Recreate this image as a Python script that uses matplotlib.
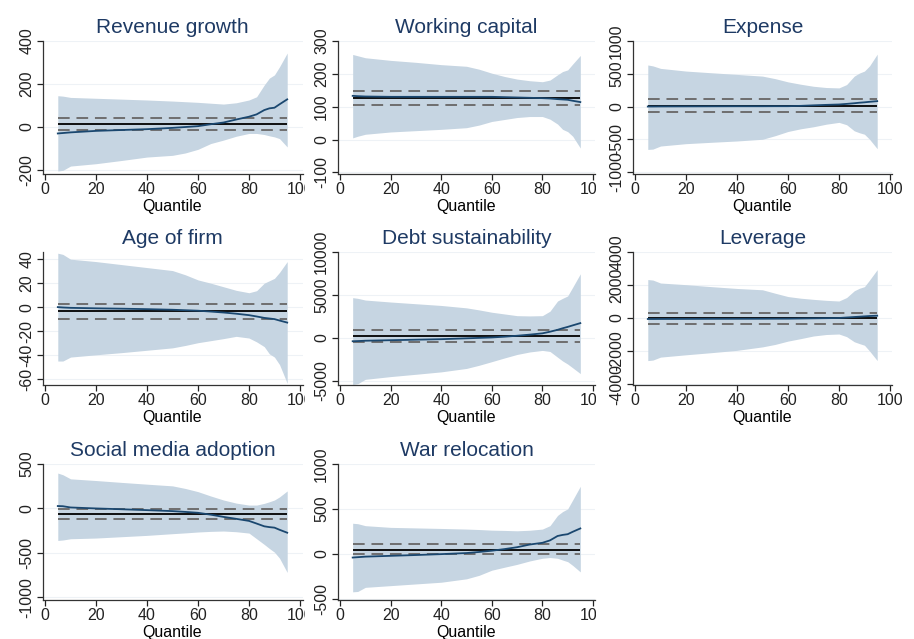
#!/usr/bin/env python3
"""Quantile regression coefficient plots (8 panels) with OLS reference lines."""

import matplotlib
matplotlib.use("Agg")
import matplotlib.pyplot as plt
from matplotlib.transforms import Bbox, TransformedBbox

plt.rcParams["font.family"] = ["Liberation Sans", "DejaVu Sans"]

COLORS = {
    "band": "#c6d5e2",
    "coef": "#1a476f",
    "ols": "#000000",
    "ci": "#6e6e6e",
    "title": "#1e3a64",
    "grid": "#eef2f6",
    "axis": "#333333",
}

QUANTILES = [5, 7, 10, 20, 30, 40, 50, 55, 60, 65, 70, 75, 80, 83, 86, 88, 90, 92, 95]

TITLES = ["Revenue growth", "Working capital", "Expense", "Age of firm",
          "Debt sustainability", "Leverage", "Social media adoption", "War relocation"]

# upper / lower bounds of the quantile CI, quantile coefficient
rev_upper = [145, 143, 137, 133, 129, 125, 120, 117, 114, 110, 106, 112, 125, 140, 195, 227, 242, 280, 344]
rev_lower = [-206, -203, -183, -172, -157, -141, -133, -122, -105, -78, -62, -44, -31, -31, -36, -42, -47, -55, -94]
rev_coef = [-31, -29, -26, -19, -15, -11, -5, -1, 3, 12, 20, 34, 47, 58, 78, 86, 89, 105, 128]

wc_upper = [259, 255, 249, 241, 235, 228, 223, 214, 202, 192, 184, 179, 176, 181, 197, 207, 212, 230, 256]
wc_lower = [5, 10, 16, 23, 27, 31, 36, 44, 55, 61, 67, 70, 70, 62, 47, 31, 24, 10, -26]
wc_coef = [133, 132, 131, 130, 130, 130, 130, 130, 130, 129, 128, 127, 126, 125, 123, 122, 121, 118, 114]

exp_upper = [634, 620, 582, 541, 515, 490, 464, 425, 376, 340, 309, 290, 284, 335, 464, 510, 541, 620, 799]
exp_lower = [-655, -650, -603, -567, -546, -526, -500, -445, -381, -340, -309, -270, -242, -278, -371, -400, -423, -500, -644]
exp_coef = [0, 0, 1, 2, 3, 4, 4, 5, 5, 10, 18, 25, 31, 40, 50, 58, 64, 72, 82]

age_upper = [45, 44, 40, 38, 35.5, 33, 30.5, 27, 22.7, 20, 17, 14, 12, 13.7, 20, 22, 24, 29, 38]
age_lower = [-45, -45, -41.7, -39.8, -38, -36, -34, -32, -29.7, -28, -26.3, -24.4, -25.8, -29, -33, -39, -41.7, -48, -63.6]
age_coef = [0, -0.3, -0.6, -1.0, -1.3, -1.7, -2.2, -2.6, -3, -3.7, -4.5, -5.5, -6.7, -7.8, -9, -9.5, -10, -11.2, -12.9]

debt_upper = [4680, 4600, 4400, 4170, 3970, 3770, 3490, 3250, 2980, 2780, 2580, 2550, 2580, 3100, 4290, 4600, 4880, 5900, 7460]
debt_lower = [-5440, -5350, -4840, -4520, -4250, -3970, -3570, -3200, -2780, -2350, -1940, -1650, -1470, -1590, -2260, -2700, -3060, -3500, -4170]
debt_coef = [-400, -380, -340, -280, -220, -160, -60, -10, 40, 130, 240, 370, 520, 710, 930, 1110, 1270, 1450, 1710]

lev_upper = [2330, 2300, 2120, 2020, 1900, 1790, 1710, 1500, 1300, 1200, 1130, 1070, 1030, 1240, 1650, 1800, 1900, 2300, 2930]
lev_lower = [-2580, -2550, -2370, -2230, -2100, -1960, -1750, -1600, -1400, -1250, -1090, -1000, -970, -1130, -1440, -1550, -1650, -2000, -2580]
lev_coef = [-60, -60, -58, -55, -50, -48, -45, -42, -40, -30, -20, -10, 0, 30, 60, 80, 100, 120, 140]

soc_upper = [398, 379, 333, 314, 293, 273, 254, 225, 189, 140, 95, 60, 38, 38, 57, 75, 95, 130, 197]
soc_lower = [-360, -355, -341, -333, -318, -303, -284, -275, -265, -258, -254, -262, -277, -341, -405, -450, -492, -560, -720]
soc_coef = [27, 25, 11, 0, -9, -19, -30, -39, -49, -70, -95, -117, -140, -170, -201, -210, -216, -240, -273]

war_upper = [340, 335, 313, 294, 288, 282, 275, 270, 263, 260, 256, 262, 275, 313, 427, 470, 500, 600, 752]
war_lower = [-424, -420, -374, -355, -336, -317, -279, -240, -183, -150, -118, -80, -50, -42, -50, -70, -88, -130, -202]
war_coef = [-42, -38, -32, -23, -14, -4, 8, 20, 34, 52, 73, 103, 122, 149, 198, 210, 218, 245, 282]

# OLS estimate and its CI (low, estimate, high)
OLS = [(-16, 12, 39), (106, 127, 148), (-77, 10, 108), (-9.8, -3.4, 2.8),
       (-520, 160, 910), (-370, -20, 310), (-121, -64, -8), (-8, 46, 107)]

YTICKS = [
    [-200, 0, 200, 400],
    [-100, 0, 100, 200, 300],
    [-1000, -500, 0, 500, 1000],
    [-60, -40, -20, 0, 20, 40],
    [-5000, 0, 5000, 10000],
    [-4000, -2000, 0, 2000, 4000],
    [-1000, -500, 0, 500],
    [-500, 0, 500, 1000],
]
YLIMS = [(-220, 400), (-105, 300), (-1030, 1000), (-65, 46),
         (-5500, 10000), (-4060, 4000), (-1030, 500), (-515, 1000)]
XTICKS = [0, 20, 40, 60, 80, 100]

UPPERS = [rev_upper, wc_upper, exp_upper, age_upper, debt_upper, lev_upper, soc_upper, war_upper]
LOWERS = [rev_lower, wc_lower, exp_lower, age_lower, debt_lower, lev_lower, soc_lower, war_lower]
COEFS = [rev_coef, wc_coef, exp_coef, age_coef, debt_coef, lev_coef, soc_coef, war_coef]

W, H = 914, 639
# axes boxes in pixels: left/right per column, top/bottom per row
COL_X = [(42.5, 302.5), (337.5, 595.5), (632.5, 892.5)]
ROW_Y = [(41, 174), (252, 385), (464, 600)]
# right edge of each column's panel, where the exported graph cut off the "100" label
COL_CLIP = [305, 596, 914]


def draw_panel(fig, i):
    r, c = divmod(i, 3)
    x0, x1 = COL_X[c]
    y0, y1 = ROW_Y[r]
    ax = fig.add_axes([x0 / W, 1 - y1 / H, (x1 - x0) / W, (y1 - y0) / H])
    q_lo, q_hi = QUANTILES[0], QUANTILES[-1]

    ax.fill_between(QUANTILES, LOWERS[i], UPPERS[i], color=COLORS["band"], lw=0, zorder=1)
    lo, est, hi = OLS[i]
    ax.hlines(est, q_lo, q_hi, color=COLORS["ols"], lw=1.3, zorder=3)
    ax.hlines([lo, hi], q_lo, q_hi, color=COLORS["ci"], lw=1.4,
              linestyles=[(0, (6, 3.5))], zorder=3)
    ax.plot(QUANTILES, COEFS[i], color=COLORS["coef"], lw=1.3, zorder=4)

    ax.set_xlim(-1, 101)
    ax.set_ylim(*YLIMS[i])
    ax.set_xticks(XTICKS)
    ax.set_yticks(YTICKS[i])
    ax.set_yticklabels([str(t) for t in YTICKS[i]], rotation=90, va="center")
    ax.grid(axis="y", color=COLORS["grid"], lw=0.8, zorder=0)
    ax.set_axisbelow(True)
    for side in ("top", "right"):
        ax.spines[side].set_visible(False)
    for side in ("left", "bottom"):
        ax.spines[side].set_color(COLORS["axis"])
        ax.spines[side].set_linewidth(0.9)
    ax.tick_params(labelsize=11.5, length=4, width=0.9, pad=2, colors="#222222")
    ax.set_xlabel("Quantile", fontsize=11.5, labelpad=1)
    ax.set_title(TITLES[i], fontsize=15, color=COLORS["title"], pad=6)

    clip = TransformedBbox(Bbox([[0, 0], [COL_CLIP[c] / W, 1]]), fig.transFigure)
    for lab in ax.get_xticklabels():
        lab.set_clip_box(clip)
        lab.set_clip_on(True)
    return ax


def main():
    fig = plt.figure(figsize=(W / 100, H / 100), dpi=100)
    fig.set_facecolor("white")
    for i in range(len(TITLES)):
        draw_panel(fig, i)
    fig.savefig("out.png", dpi=100, facecolor="white")
    plt.close(fig)


if __name__ == "__main__":
    main()
